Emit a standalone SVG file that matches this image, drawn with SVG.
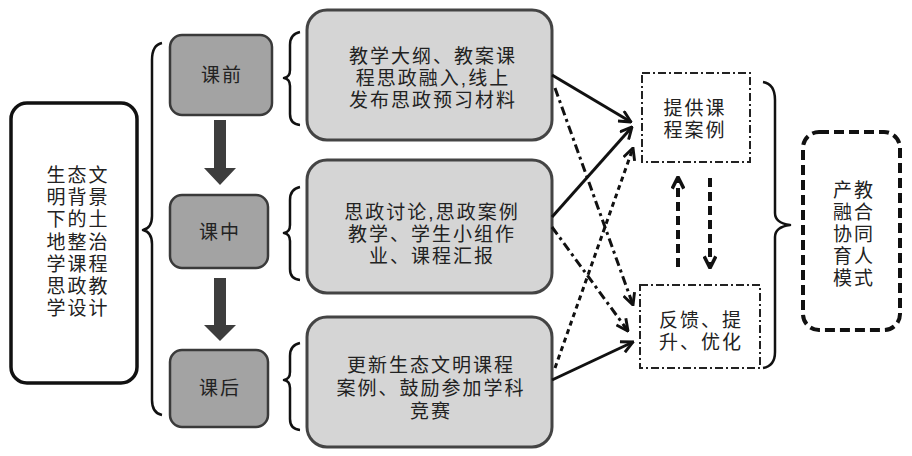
<svg xmlns="http://www.w3.org/2000/svg" width="912" height="456" viewBox="0 0 912 456">
<defs>
<style>
text{font-family:"Liberation Sans","Noto Sans CJK SC",sans-serif;fill:#222;text-anchor:middle;font-size:19px;letter-spacing:2px}
.stage{fill:#a3a3a3;stroke:#3a3a3a;stroke-width:2.5}
.big{fill:#d5d5d5;stroke:#444;stroke-width:3}
.brace{fill:none;stroke:#111;stroke-width:2.5;stroke-linejoin:round}
.dd{fill:#fff;stroke:#222;stroke-width:2;stroke-dasharray:8 3 2 3}
.conn{fill:none;stroke:#111;stroke-width:3}
.dashdot{stroke-dasharray:9 4 3 4}
.dotted{stroke-dasharray:5 4}
.vdash{fill:none;stroke:#111;stroke-width:4;stroke-dasharray:9 5}
</style>
<marker id="ah" viewBox="0 0 12 12" refX="11" refY="6" markerWidth="14" markerHeight="14" markerUnits="userSpaceOnUse" orient="auto">
<path d="M1,1 L11,6 L1,11" fill="none" stroke="#111" stroke-width="2.5"/>
</marker>
<marker id="ah2" viewBox="0 0 12 12" refX="11" refY="6" markerWidth="14" markerHeight="14" markerUnits="userSpaceOnUse" orient="auto">
<path d="M1,1 L11,6 L1,11" fill="none" stroke="#111" stroke-width="3"/>
</marker>
</defs>
<rect width="912" height="456" fill="#fff"/>

<g id="design">
<rect x="11" y="103" width="126" height="280" rx="16" fill="#fff" stroke="#111" stroke-width="3.5"/>
<text x="78" y="182">生态文</text>
<text x="78" y="204">明背景</text>
<text x="78" y="226">下的土</text>
<text x="78" y="249">地整治</text>
<text x="78" y="271">学课程</text>
<text x="78" y="293">思政教</text>
<text x="78" y="315">学设计</text>
</g>

<g id="braces">
<path class="brace" d="M162,43 Q152,45 152,60 L152,216 Q152,228 143,230 Q152,232 152,244 L152,400 Q152,413 162,415"/>
<path class="brace" d="M300,32 Q290,34 290,45 L290,70 Q290,77 284,78 Q290,79 290,86 L290,114 Q290,124 300,125"/>
<path class="brace" d="M300,187 Q290,189 290,200 L290,225 Q290,232 284,233 Q290,234 290,241 L290,269 Q290,279 300,280"/>
<path class="brace" d="M300,343 Q290,345 290,356 L290,372 Q290,379 284,380 Q290,381 290,388 L290,419 Q290,429 300,430"/>
<path class="brace" d="M763,82 Q775,84 775,100 L775,213 Q775,223 790,225 Q775,227 775,237 L775,352 Q775,366 763,368"/>
</g>

<g id="pre">
<rect class="stage" x="170" y="35" width="102" height="80" rx="12"/>
<text x="222" y="82">课前</text>
</g>
<g id="mid">
<rect class="stage" x="170" y="195" width="98" height="73" rx="12"/>
<text x="220" y="239">课中</text>
</g>
<g id="post">
<rect class="stage" x="170" y="350" width="98" height="77" rx="12"/>
<text x="220" y="395">课后</text>
</g>

<g id="pre-content">
<rect class="big" x="307" y="10" width="245" height="130" rx="20"/>
<text x="433" y="63">教学大纲、教案课</text>
<text x="433" y="85">程思政融入,线上</text>
<text x="433" y="107">发布思政预习材料</text>
</g>
<g id="mid-content">
<rect class="big" x="307" y="160" width="245" height="133" rx="20"/>
<text x="432" y="219">思政讨论,思政案例</text>
<text x="432" y="241">教学、学生小组作</text>
<text x="432" y="263">业、课程汇报</text>
</g>
<g id="post-content">
<rect class="big" x="307" y="317" width="245" height="130" rx="20"/>
<text x="431" y="372">更新生态文明课程</text>
<text x="431" y="395">案例、鼓励参加学科</text>
<text x="431" y="418">竞赛</text>
</g>

<g id="cases">
<rect class="dd" x="642" y="73" width="108" height="89"/>
<text x="695" y="115">提供课</text>
<text x="695" y="137">程案例</text>
</g>
<g id="feedback">
<rect class="dd" x="640" y="285" width="120" height="83"/>
<text x="701" y="327">反馈、提</text>
<text x="701" y="349">升、优化</text>
</g>
<g id="model">
<rect x="803" y="132" width="97" height="198" rx="16" fill="#fff" stroke="#111" stroke-width="4" stroke-dasharray="10 5"/>
<text x="854" y="197">产教</text>
<text x="854" y="219">融合</text>
<text x="854" y="241">协同</text>
<text x="854" y="263">育人</text>
<text x="854" y="285">模式</text>
</g>

<g id="connectors">
<path d="M214,120 L226,120 L226,168 L236,168 L220,185 L204,168 L214,168 Z" fill="#3d3d3d"/>
<path d="M214,278 L226,278 L226,325 L236,325 L220,341 L204,325 L214,325 Z" fill="#3d3d3d"/>
<line class="conn" x1="552" y1="75" x2="631" y2="122" marker-end="url(#ah)"/>
<line class="conn dashdot" x1="555" y1="88" x2="633" y2="305" marker-end="url(#ah)"/>
<line class="conn" x1="552" y1="217" x2="632" y2="127" marker-end="url(#ah)"/>
<line class="conn dashdot" x1="552" y1="227" x2="628" y2="331" marker-end="url(#ah)"/>
<line class="conn" x1="552" y1="380" x2="633" y2="342" marker-end="url(#ah)"/>
<line class="conn dotted" x1="555" y1="368" x2="633" y2="148" marker-end="url(#ah)"/>
<line class="vdash" x1="678" y1="267" x2="678" y2="177" marker-end="url(#ah2)"/>
<line class="vdash" x1="710" y1="178" x2="710" y2="268" marker-end="url(#ah2)"/>
</g>
</svg>
